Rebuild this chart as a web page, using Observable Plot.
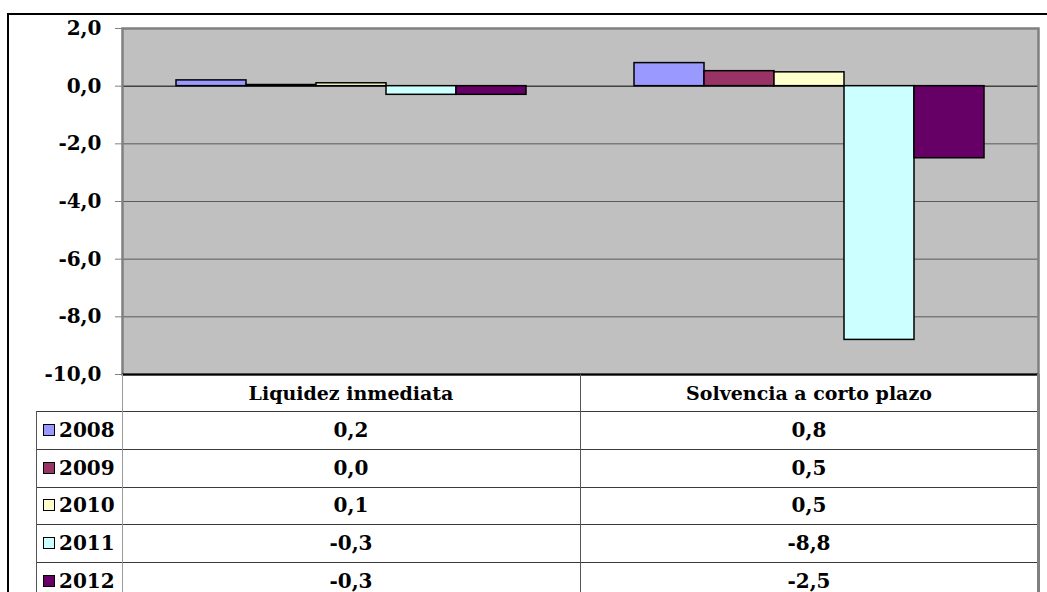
<!DOCTYPE html>
<html>
<head>
<meta charset="utf-8">
<script src="https://cdn.jsdelivr.net/npm/d3@7"></script>
<script src="https://cdn.jsdelivr.net/npm/@observablehq/plot@0.6"></script>
<style>
  html, body { margin: 0; padding: 0; background: #fff; width: 1047px; height: 592px; overflow: hidden; }
  #wrap { position: relative; width: 1047px; height: 592px; font-family: "DejaVu Serif", serif; font-weight: bold; font-size: 20px; color: #000; }
  #outer { position: absolute; left: 7px; top: 13px; width: 1050px; height: 600px; border-left: 2px solid #000; border-top: 2px solid #000; box-sizing: border-box; }
  #chart { position: absolute; left: 0; top: 0; }
  .hl { position: absolute; height: 1px; background: #3a3a3a; }
  .vl { position: absolute; width: 1px; background: #555; }
  .cell { position: absolute; display: flex; align-items: center; justify-content: center; white-space: nowrap; }
  .head { font-size: 19px; }
  .leg { position: absolute; display: flex; align-items: center; white-space: nowrap; }
  .sw { width: 10px; height: 10px; border: 1px solid #000; margin-right: 4px; }
</style>
</head>
<body>
<div id="wrap">
  <div id="outer"></div>
  <div id="chart"></div>
  <div id="table"></div>
</div>
<script>
// ---- data ----
const categories = ["Liquidez inmediata", "Solvencia a corto plazo"];
const years = ["2008", "2009", "2010", "2011", "2012"];
const colors = ["#9999ff", "#993366", "#ffffcc", "#ccffff", "#660066"];
const liquidez = [0.2, 0.04, 0.1, -0.3, -0.3];
const solvencia = [0.8, 0.52, 0.48, -8.8, -2.5];
const yTicks = [2, 0, -2, -4, -6, -8, -10];

const seriesByCat = [liquidez, solvencia];
const rows = [];
categories.forEach((c, ci) => years.forEach((y, yi) => rows.push({cat: c, year: y, value: seriesByCat[ci][yi]})));

const fmt = v => v.toFixed(1).replace(".", ",");

// ---- layout ----
const W = 1047, mL = 122, mR = 9, mT = 28, plotBottom = 374;

const chart = Plot.plot({
  width: W,
  height: plotBottom + 1,
  marginLeft: mL,
  marginRight: mR,
  marginTop: mT,
  marginBottom: 1,
  style: {fontFamily: "DejaVu Serif, serif", fontWeight: "bold", fontSize: "20px", background: "transparent", overflow: "visible"},
  fx: {domain: categories, padding: 0, axis: null},
  x: {domain: years, paddingInner: 0, paddingOuter: 0.75, axis: null},
  y: {domain: [-10, 2], axis: null},
  color: {domain: years, range: colors},
  marks: [
    Plot.frame({fill: "#c0c0c0", stroke: null, facet: "super"}),
    Plot.ruleY([2, -2, -4, -6, -8], {stroke: "#5a5a5a", strokeWidth: 1}),
    Plot.ruleY([0], {stroke: "#000", strokeWidth: 1}),
    Plot.barY(rows, {fx: "cat", x: "year", y: "value", fill: "year", stroke: "#000", strokeWidth: 1.5}),
    Plot.frame({stroke: "#808080", strokeWidth: 2.5, facet: "super"}),
    Plot.ruleY([-10], {stroke: "#000", strokeWidth: 2}),
    Plot.axisY({ticks: yTicks, tickFormat: fmt, label: null, tickSize: 7, tickPadding: 14, stroke: "#808080", fill: "#000", fontSize: 20, fontWeight: "bold"})
  ]
});
document.getElementById("chart").appendChild(chart);

// ---- data table ----
const t = d3.select("#table");
const colX = [mL, (mL + (W - mR)) / 2, W - mR];   // category column boundaries
const legL = 36;
const headTop = plotBottom, headBot = 411, rowH = 37.8;
const rowTops = years.map((_, i) => headBot + i * rowH);
const tableBottom = 600;

// horizontal lines
[headBot, ...rowTops.slice(1), headBot + years.length * rowH].forEach(y => {
  t.append("div").attr("class", "hl").style("left", legL + "px").style("top", y + "px").style("width", (colX[2] - legL) + "px");
});
// vertical lines
t.append("div").attr("class", "vl").style("left", legL + "px").style("top", headBot + "px").style("height", (tableBottom - headBot) + "px");
t.append("div").attr("class", "vl").style("left", colX[0] + "px").style("top", headTop + "px").style("height", (tableBottom - headTop) + "px").style("background", "#9a9a9a");
t.append("div").attr("class", "vl").style("left", colX[1] + "px").style("top", headTop + "px").style("height", (tableBottom - headTop) + "px");
t.append("div").attr("class", "vl").style("left", (colX[2] - 1) + "px").style("top", headTop + "px").style("height", (tableBottom - headTop) + "px").style("background", "#808080").style("width", "3px");

// header
categories.forEach((c, i) => {
  t.append("div").attr("class", "cell head")
    .style("left", colX[i] + "px").style("width", (colX[i + 1] - colX[i]) + "px")
    .style("top", headTop + "px").style("height", (headBot - headTop) + "px")
    .text(c);
});
// rows
years.forEach((y, r) => {
  const top = rowTops[r];
  const leg = t.append("div").attr("class", "leg")
    .style("left", (legL + 7) + "px").style("top", top + "px").style("height", rowH + "px");
  leg.append("div").attr("class", "sw").style("background", colors[r]);
  leg.append("span").text(y);
  seriesByCat.forEach((vals, ci) => {
    t.append("div").attr("class", "cell")
      .style("left", colX[ci] + "px").style("width", (colX[ci + 1] - colX[ci]) + "px")
      .style("top", top + "px").style("height", rowH + "px")
      .text(fmt(vals[r]));
  });
});
</script>
</body>
</html>
